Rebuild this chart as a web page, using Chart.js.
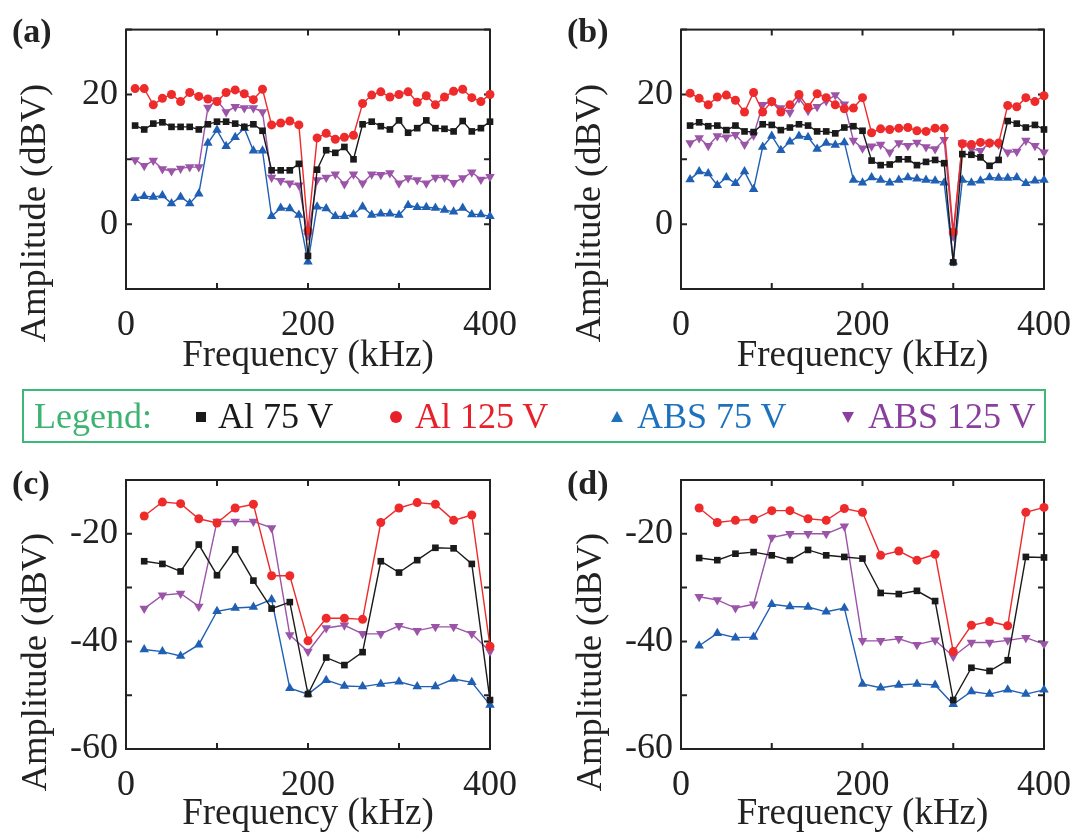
<!DOCTYPE html>
<html>
<head>
<meta charset="utf-8">
<script src="https://cdn.jsdelivr.net/npm/chart.js@4.4.0/dist/chart.umd.min.js"></script>
<style>
  body { margin: 0; background: #fff; width: 1086px; height: 836px; position: relative; overflow: hidden; font-family: "Liberation Serif", serif; }
  .panel { position: absolute; }
  .tag { position: absolute; font: bold 34px "Liberation Serif", serif; color: #222; line-height: 1; }
  .ytitle { position: absolute; font-size: 36.5px; line-height: 1; color: #222; white-space: nowrap; transform: translate(-50%, -50%) rotate(-90deg); }
  #legend { position: absolute; left: 22px; top: 389px; width: 1024px; height: 54px; box-sizing: border-box; border: 2px solid #3cb878; }
  #legend span { position: absolute; font-size: 36px; line-height: 50px; top: 0; white-space: nowrap; }
  #legend i { position: absolute; display: block; }
</style>
</head>
<body>
<canvas id="pa" class="panel" style="left:0;top:0" width="543" height="385"></canvas>
<canvas id="pb" class="panel" style="left:555px;top:0" width="531" height="385"></canvas>
<canvas id="pc" class="panel" style="left:0;top:450px" width="543" height="386"></canvas>
<canvas id="pd" class="panel" style="left:555px;top:450px" width="531" height="386"></canvas>
<div class="tag" style="left:12px;top:14px">(a)</div>
<div class="tag" style="left:567px;top:14px">(b)</div>
<div class="tag" style="left:12px;top:466px">(c)</div>
<div class="tag" style="left:567px;top:466px">(d)</div>
<div class="ytitle" style="left:33px;top:213px">Amplitude (dBV)</div>
<div class="ytitle" style="left:588px;top:213px">Amplitude (dBV)</div>
<div class="ytitle" style="left:34px;top:662px">Amplitude (dBV)</div>
<div class="ytitle" style="left:589px;top:662px">Amplitude (dBV)</div>
<div id="legend"></div>
<script>
// frequencies (kHz)
const freqFine = [10, 20, 30, 40, 50, 60, 70, 80, 90, 100, 110, 120, 130, 140, 150, 160, 170, 180, 190, 200,
  210, 220, 230, 240, 250, 260, 270, 280, 290, 300, 310, 320, 330, 340, 350, 360, 370, 380, 390, 400];
const freqCoarse = [20, 40, 60, 80, 100, 120, 140, 160, 180, 200, 220, 240, 260, 280, 300, 320, 340, 360, 380, 400];

const seriesNames = ['Al 75 V', 'Al 125 V', 'ABS 75 V', 'ABS 125 V'];
const seriesColors = ['#1a1a1a', '#ee2a2a', '#1f5fb4', '#9b54a8'];
const legendColors = ['#1a1a1a', '#e8202a', '#1e72bd', '#8a3f9e'];

// panel (a)
const aAl75 = [15.2, 14.6, 15.5, 15.7, 15.0, 15.0, 15.0, 14.6, 15.4, 15.8, 15.8, 15.5, 15.0, 15.4, 14.4, 8.3, 8.3, 8.3, 9.3, -4.9,
  8.4, 11.4, 11.0, 11.9, 10.0, 15.4, 15.8, 15.1, 14.6, 16.0, 14.1, 14.8, 16.0, 14.8, 14.7, 14.3, 15.9, 14.3, 14.8, 15.8];
const aAl125 = [20.9, 20.9, 18.4, 19.4, 20.0, 18.9, 20.3, 19.7, 19.3, 18.9, 20.3, 20.7, 20.1, 19.2, 20.8, 15.3, 15.6, 15.9, 15.3, -1.0,
  13.3, 14.0, 13.1, 13.4, 13.7, 18.6, 19.9, 20.4, 19.6, 20.0, 20.4, 18.8, 19.8, 18.4, 19.6, 20.5, 20.8, 19.5, 18.9, 20.0];
const aAbs75 = [4.0, 4.3, 4.2, 4.4, 3.2, 4.2, 3.2, 4.7, 12.5, 14.5, 12.0, 13.4, 14.8, 11.3, 11.3, 1.2, 2.5, 2.4, 1.4, -5.8,
  2.7, 2.4, 1.2, 1.2, 1.5, 2.7, 1.4, 1.6, 1.6, 1.4, 2.9, 2.6, 2.6, 2.5, 2.2, 1.9, 2.5, 1.5, 1.5, 1.2];
const aAbs125 = [9.9, 9.0, 9.8, 8.5, 8.2, 8.6, 8.8, 8.8, 18.0, 19.1, 17.3, 18.1, 17.9, 17.9, 17.3, 7.2, 6.7, 6.3, 6.0, -1.8,
  6.8, 7.2, 7.7, 6.2, 7.7, 6.3, 7.7, 7.6, 7.9, 6.3, 7.1, 6.8, 6.3, 7.2, 7.2, 6.4, 7.1, 8.0, 6.9, 7.3];

// panel (b)
const bAl75 = [15.2, 15.7, 15.1, 15.2, 14.5, 15.2, 14.3, 14.2, 15.4, 15.3, 14.5, 14.9, 15.4, 15.2, 14.3, 14.3, 14.0, 14.9, 15.1, 14.4,
  9.8, 9.1, 9.2, 10.0, 10.0, 9.1, 9.6, 9.9, 9.4, -5.9, 10.8, 10.7, 10.3, 9.0, 9.9, 15.9, 15.5, 14.9, 15.3, 14.6];
const bAl125 = [20.2, 19.4, 18.4, 19.6, 19.9, 19.1, 17.3, 20.3, 17.3, 18.9, 17.3, 18.4, 20.0, 18.0, 20.1, 19.5, 18.4, 17.8, 17.9, 19.5,
  14.1, 14.7, 14.6, 14.8, 14.9, 14.4, 14.3, 14.8, 14.8, -1.2, 12.4, 12.3, 12.6, 12.5, 12.5, 18.3, 18.1, 19.5, 18.9, 19.8];
const bAbs75 = [6.9, 8.1, 7.8, 6.0, 7.2, 6.3, 8.1, 5.4, 11.9, 13.6, 11.4, 12.7, 13.6, 13.4, 11.6, 12.5, 12.2, 12.6, 6.8, 6.4,
  7.2, 6.8, 6.4, 6.8, 7.2, 7.0, 6.8, 6.7, 6.4, -5.8, 6.8, 6.4, 6.7, 7.2, 7.1, 7.1, 7.2, 6.3, 6.7, 6.8];
const bAbs125 = [12.5, 13.3, 12.1, 13.6, 13.4, 13.8, 12.3, 13.7, 18.4, 18.9, 17.9, 17.2, 19.4, 17.5, 18.1, 19.0, 19.9, 18.5, 12.9, 11.7,
  12.0, 12.3, 11.1, 12.5, 12.1, 12.6, 11.9, 11.6, 13.0, -1.9, 12.5, 11.6, 11.3, 12.5, 12.3, 11.1, 11.2, 12.9, 12.1, 11.1];

// panel (c)
const cAl75 = [-25.1, -25.6, -27.0, -22.0, -27.7, -22.9, -28.7, -33.9, -32.7, -49.8, -43.0, -44.4, -42.0, -25.1, -27.2, -24.9, -22.6, -22.7, -25.6, -50.9];
const cAl125 = [-16.7, -14.1, -14.4, -17.2, -18.0, -15.2, -14.5, -27.8, -27.8, -39.9, -35.7, -35.7, -35.9, -17.9, -15.2, -14.2, -14.5, -17.5, -16.5, -40.9];
const cAbs75 = [-41.5, -41.9, -42.7, -40.6, -34.4, -33.8, -33.6, -32.2, -48.7, -49.8, -47.2, -48.3, -48.4, -47.9, -47.5, -48.4, -48.4, -47.0, -47.6, -51.8];
const cAbs125 = [-33.9, -31.4, -31.1, -33.5, -17.7, -17.7, -17.7, -18.9, -38.8, -41.9, -37.5, -37.0, -38.6, -38.6, -37.1, -38.0, -37.3, -37.3, -38.6, -41.9];

// panel (d)
const dAl75 = [-24.5, -24.9, -23.7, -23.4, -24.0, -24.9, -23.0, -24.0, -24.3, -24.6, -31.0, -31.2, -30.6, -32.5, -50.9, -44.9, -45.5, -43.5, -24.3, -24.4];
const dAl125 = [-15.2, -17.9, -17.5, -17.3, -15.7, -15.7, -17.2, -17.5, -15.3, -16.0, -24.0, -23.2, -24.9, -23.8, -41.9, -37.0, -36.3, -37.1, -16.0, -15.1];
const dAbs75 = [-40.8, -38.5, -39.3, -39.2, -33.1, -33.5, -33.6, -34.5, -33.8, -47.9, -48.6, -48.1, -47.9, -48.1, -51.7, -49.3, -49.8, -49.0, -49.8, -49.0];
const dAbs125 = [-31.7, -32.3, -33.8, -33.1, -20.7, -20.0, -20.0, -20.0, -18.6, -39.9, -39.9, -39.5, -40.6, -39.8, -42.8, -40.2, -40.2, -39.8, -39.3, -40.5];

const xLabels = [0, 200, 400];
const yLabelsTop = [0, 20];
const yLabelsBottom = [-20, -40, -60];

const markers = [
  { pointStyle: 'rect', pointRadius: 4.7, rotation: 0 },
  { pointStyle: 'circle', pointRadius: 4.5, rotation: 0 },
  { pointStyle: 'triangle', pointRadius: 5.5, rotation: 0 },
  { pointStyle: 'triangle', pointRadius: 5.5, rotation: 180 }
];

const FONT = '"Liberation Serif", "Times New Roman", serif';
const INK = '#222';

// box round the plot area with inward ticks on all four sides
const frame = {
  id: 'frame',
  beforeDatasetsDraw(chart) {
    const { ctx, chartArea: a, scales: { x, y } } = chart;
    ctx.save();
    ctx.strokeStyle = INK;
    ctx.lineWidth = 2;
    ctx.strokeRect(a.left, a.top, a.right - a.left, a.bottom - a.top);
    ctx.beginPath();
    x.ticks.forEach(t => {
      const p = x.getPixelForValue(t.value);
      ctx.moveTo(p, a.bottom); ctx.lineTo(p, a.bottom - 6);
      ctx.moveTo(p, a.top); ctx.lineTo(p, a.top + 6);
    });
    y.ticks.forEach(t => {
      const p = y.getPixelForValue(t.value);
      ctx.moveTo(a.left, p); ctx.lineTo(a.left + 6, p);
      ctx.moveTo(a.right, p); ctx.lineTo(a.right - 6, p);
    });
    ctx.stroke();
    ctx.restore();
  }
};

function makePanel(id, freqs, values, yMin, yMax, yShown, box) {
  const datasets = values.map((v, i) => ({
    label: seriesNames[i],
    data: freqs.map((f, k) => ({ x: f, y: v[k] })),
    borderColor: seriesColors[i],
    backgroundColor: seriesColors[i],
    borderWidth: 1.4,
    pointBorderWidth: 0,
    clip: false,
    ...markers[i]
  }));
  new Chart(id, {
    type: 'line',
    data: { datasets },
    plugins: [frame],
    options: {
      responsive: false,
      animation: false,
      layout: { padding: { top: box.top, right: box.right, bottom: 0, left: 0 } },
      plugins: { legend: { display: false }, tooltip: { enabled: false } },
      scales: {
        x: {
          type: 'linear', min: 0, max: 400,
          grid: { display: false, drawTicks: false },
          border: { display: false },
          ticks: {
            stepSize: 100, padding: 15, color: INK, maxRotation: 0,
            font: { family: FONT, size: 36 },
            callback: v => xLabels.includes(v) ? String(v) : ''
          },
          title: {
            display: true, text: 'Frequency (kHz)', color: INK,
            font: { family: FONT, size: 37, lineHeight: 1 },
            padding: { top: 0, bottom: box.titleGap }
          },
          afterFit: s => { s.height = box.xHeight; }
        },
        y: {
          min: yMin, max: yMax,
          grid: { display: false, drawTicks: false },
          border: { display: false },
          ticks: {
            stepSize: 10, padding: 8, color: INK,
            font: { family: FONT, size: 36 },
            callback: v => yShown.includes(v) ? String(v) : ''
          },
          afterFit: s => { s.width = 126; }
        }
      }
    }
  });
}

makePanel('pa', freqFine, [aAl75, aAl125, aAbs75, aAbs125], -10, 30, yLabelsTop, { top: 20, right: 53, xHeight: 96, titleGap: 10 });
makePanel('pb', freqFine, [bAl75, bAl125, bAbs75, bAbs125], -10, 30, yLabelsTop, { top: 20, right: 41, xHeight: 96, titleGap: 10 });
makePanel('pc', freqCoarse, [cAl75, cAl125, cAbs75, cAbs125], -60, -10, yLabelsBottom, { top: 30, right: 53, xHeight: 87, titleGap: 3 });
makePanel('pd', freqCoarse, [dAl75, dAl125, dAbs75, dAbs125], -60, -10, yLabelsBottom, { top: 30, right: 41, xHeight: 87, titleGap: 3 });

// legend strip
const legend = document.getElementById('legend');
const markerX = [177, 372, 593, 824];
const labelX = [194, 391, 613, 844];
let html = `<span style="left:10px;color:#3cb371">Legend:</span>`;
seriesNames.forEach((name, i) => {
  const c = legendColors[i];
  let shape;
  if (i === 0) shape = `left:${markerX[i] - 5}px;top:21px;width:10px;height:10px;background:${c}`;
  else if (i === 1) shape = `left:${markerX[i] - 6}px;top:20px;width:12px;height:12px;border-radius:50%;background:${c}`;
  else if (i === 2) shape = `left:${markerX[i] - 6}px;top:20px;width:0;height:0;border-left:6px solid transparent;border-right:6px solid transparent;border-bottom:11px solid ${c}`;
  else shape = `left:${markerX[i] - 6}px;top:21px;width:0;height:0;border-left:6px solid transparent;border-right:6px solid transparent;border-top:11px solid ${c}`;
  html += `<i style="${shape}"></i><span style="left:${labelX[i]}px;color:${c}">${name}</span>`;
});
legend.innerHTML = html;
</script>
</body>
</html>
